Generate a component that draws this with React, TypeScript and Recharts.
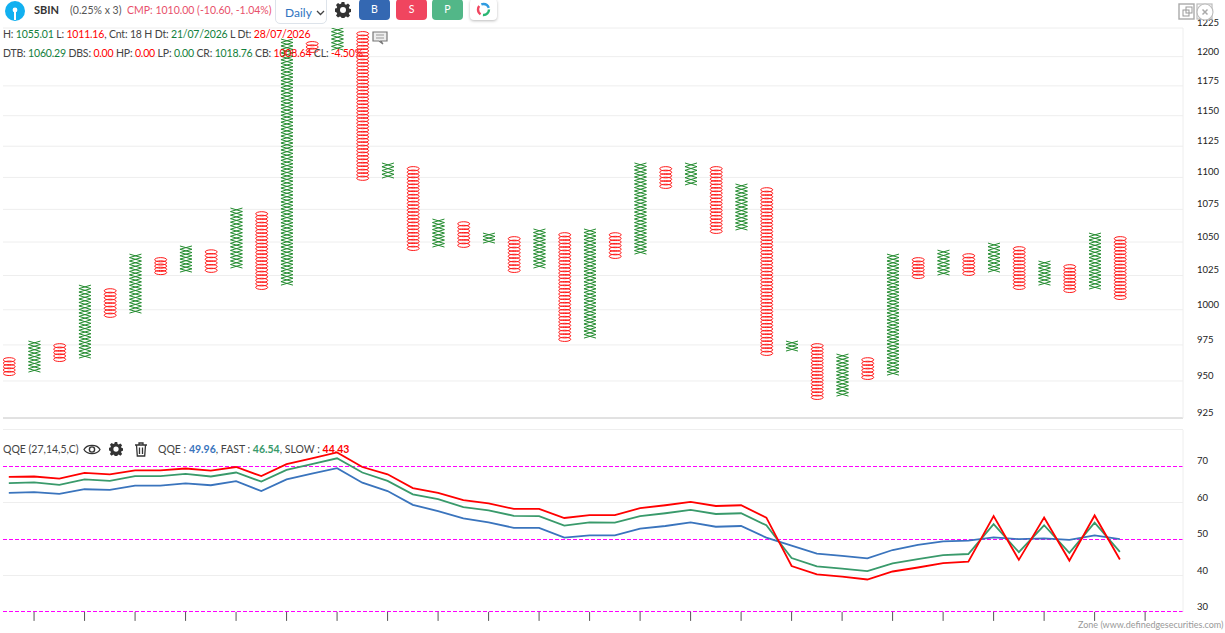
import React from "react";
import { ComposedChart, LineChart, Bar, Line, XAxis, YAxis, CartesianGrid, ReferenceLine } from "recharts";

const columnKinds = "OXOXOXOXOXOXOXOXOXOXOXOXOXOXOXOXOXOXOXOXOXOXO".split("");
const columnHighs = [965.8,977.7,975.6,1017.9,1015,1040.9,1037.9,1047,1043.9,1076,1072.9,1215.3,1212.7,1225,1221.5,1111.5,1108.3,1067.5,1065.2,1056.8,1053.8,1059.9,1056.8,1059.9,1056.8,1111.5,1108.3,1111.5,1108.3,1094.8,1091.6,977.7,975.6,968.6,965.8,1040.9,1037.9,1043.9,1040.9,1049.2,1046.2,1035.7,1032.7,1056.8,1053.8];
const columnLows = [954,956.1,963.7,965.8,994.8,997.6,1026,1027.5,1027.5,1030.5,1015,1017.9,1204,1205.7,1098,1099.5,1043.9,1046.2,1046.2,1049.2,1027.5,1030.5,977.7,979.8,1037.9,1040.9,1091.6,1094,1056.8,1059.1,967.9,970.7,937.7,939.7,951.3,954,1023.1,1025.3,1025.3,1027.5,1015,1017.9,1012.8,1015,1007.7];
const priceTicks = [925,950,975,1000,1025,1050,1075,1100,1125,1150,1175,1200,1225];

const qqeValues = [62.7,62.9,62.4,63.7,63.5,64.7,64.7,65.3,64.8,65.9,63.2,66.4,68,69.5,65.5,63.2,59.4,57.7,55.7,54.6,53.1,53.1,50.4,51,51,52.9,53.6,54.6,53.4,53.6,50.4,48.2,46,45.4,44.7,47,48.4,49.4,49.6,50.5,50,50.2,49.8,51,50];
const fastValues = [65.4,65.6,64.9,66.4,66,67.3,67.3,67.9,67.2,68.3,65.8,69,70.6,72.2,68.3,66,62.3,61,58.8,57.9,56.4,56.3,53.7,54.6,54.5,56.3,57.1,58,56.9,57.1,53.8,44.8,42.5,41.9,41.2,43.3,44.5,45.6,45.9,54.1,46.4,53.8,46.2,54.5,46.5];
const slowValues = [67.1,67.2,66.6,68.2,67.8,68.9,68.9,69.4,68.8,69.8,67.3,70.6,72.2,73.8,69.8,67.8,64,62.7,60.7,59.8,58.3,58.3,55.8,56.6,56.6,58.5,59.3,60.2,59.1,59.3,55.9,42.6,40.3,39.7,38.9,41.1,42.2,43.4,43.8,56.3,44.3,55.9,44.1,56.5,44.4];
const qqeTicks = [30,40,50,60,70];
const qqeGrey = [40,60,80];
const qqeMagenta = [30,50,70];
const timeTicks = [1,3,5,7,9,11,13,15,17,19,21,23,25,27,29,31,33,35,37,39,41,43,45];

const priceRows = columnKinds.map((kind, i) => ({ i, kind, range: [columnLows[i], columnHighs[i]] }));
const qqeRows = qqeValues.map((qqe, i) => ({ i, qqe, fast: fastValues[i], slow: slowValues[i] }));

const xDomain: [number, number] = [-0.23, 46.5];
const FONT = "Lato, 'Open Sans', sans-serif";
const GREEN = "#228b2e";
const RED = "#ff1a1a";
const TXT = "#444";
const VGREEN = "#12803c";

function PnfShape(props: any) {
  const { x, y, width, height, payload } = props;
  const [lo, hi] = payload.range;
  const n = Math.max(1, Math.round(Math.log(hi / lo) / Math.log(1.0025)));
  const h = height / n;
  const cx = x + width / 2;
  const out = [];
  for (let k = 0; k < n; k++) {
    const t = y + k * h;
    if (payload.kind === "X") {
      out.push(<path key={k} d={`M${cx - 6} ${t}L${cx + 6} ${t + h}M${cx + 6} ${t}L${cx - 6} ${t + h}`} stroke={GREEN} strokeWidth={1} fill="none" />);
    } else {
      out.push(<ellipse key={k} cx={cx} cy={t + h / 2} rx={6} ry={2.1} stroke={RED} strokeWidth={1} fill="none" />);
    }
  }
  return <g>{out}</g>;
}

function RightTick(props: any) {
  const { x, y, payload } = props;
  return <text x={x + 6} y={y - 2} fontSize={9.5} fontFamily={FONT} fill="#222">{payload.value}</text>;
}
const NoTick = () => <g />;

const T = ({ x, y, c, b, s = 10.5, ls = 0, children }: any) => (
  <div style={{ position: "absolute", left: x, top: y, color: c || TXT, fontWeight: b ? 700 : 400, fontSize: s, letterSpacing: ls, lineHeight: "16px", whiteSpace: "pre", fontFamily: FONT }}>{children}</div>
);

const Gear = ({ x, y, s = 16 }: any) => (
  <svg style={{ position: "absolute", left: x, top: y }} width={s} height={s} viewBox="0 0 16 16">
    <path d="M6.6 0h2.8l.4 2.2 1.3.6 1.9-1.2 2 2-1.2 1.9.6 1.3 2.1.4v2.8l-2.1.4-.6 1.3 1.2 1.9-2 2-1.9-1.2-1.3.6-.4 2.2H6.6l-.4-2.2-1.3-.6-1.9 1.2-2-2 1.2-1.9-.6-1.3L-.5 9.4V6.6l2.1-.4.6-1.3L1 3l2-2 1.9 1.2 1.3-.6z" fill="#333" />
    <circle cx="8" cy="8" r="3" fill="#fff" />
  </svg>
);

const Btn = ({ x, w, bg, children }: any) => (
  <div style={{ position: "absolute", left: x, top: -1, width: w, height: 21, background: bg, borderRadius: 4, color: "#fff", textAlign: "center", fontSize: 10.5, lineHeight: "21px", fontFamily: FONT }}>{children}</div>
);

export default function App() {
  return (
    <div style={{ position: "absolute", left: 0, top: 0, width: 1225, height: 633, background: "#fff", overflow: "hidden" }}>
      <div style={{ position: "absolute", left: 0, top: 0 }}>
        <ComposedChart width={1225} height={419} data={priceRows} margin={{ top: 28, left: 3, right: 0, bottom: 1 }}>
          <CartesianGrid horizontal vertical={false} stroke="#eeeeee" />
          <XAxis dataKey="i" type="number" domain={xDomain} allowDataOverflow hide />
          <YAxis orientation="right" width={42} scale="log" domain={[925, 1225]} allowDataOverflow ticks={priceTicks} interval={0} tick={RightTick} tickLine={false} axisLine={{ stroke: "#eeeeee" }} />
          <ReferenceLine y={925} stroke="#cccccc" />
          <Bar dataKey="range" barSize={16} shape={PnfShape} isAnimationActive={false} />
        </ComposedChart>
      </div>
      <div style={{ position: "absolute", left: 0, top: 419 }}>
        <LineChart width={1225} height={215} data={qqeRows} margin={{ top: 10.9, left: 3, right: 0, bottom: 0.1 }}>
          <XAxis dataKey="i" type="number" domain={xDomain} allowDataOverflow ticks={timeTicks} interval={0} height={22} tickSize={9} tick={NoTick} axisLine={false} tickLine={{ stroke: "#555" }} />
          <YAxis orientation="right" width={42} domain={[30, 80]} allowDataOverflow ticks={qqeTicks} interval={0} tick={RightTick} tickLine={false} axisLine={{ stroke: "#eeeeee" }} />
          {qqeGrey.map((v) => <ReferenceLine key={v} y={v} stroke="#eeeeee" shapeRendering="crispEdges" />)}
          {qqeMagenta.map((v) => <ReferenceLine key={v} y={v} stroke="#ff00ff" strokeDasharray="4 2" shapeRendering="crispEdges" />)}
          <Line dataKey="qqe" stroke="#3a74bd" strokeWidth={1.8} dot={false} isAnimationActive={false} />
          <Line dataKey="fast" stroke="#399a6b" strokeWidth={1.8} dot={false} isAnimationActive={false} />
          <Line dataKey="slow" stroke="#ff0000" strokeWidth={1.8} dot={false} isAnimationActive={false} />
        </LineChart>
      </div>

      <svg style={{ position: "absolute", left: 4, top: 0 }} width={22} height={22}>
        <circle cx="11" cy="11" r="10" fill="#12b0f0" />
        <circle cx="11" cy="10" r="2.4" fill="#fff" />
        <rect x="10" y="10" width="2" height="10" fill="#fff" />
      </svg>
      <T x={34} y={2} b c="#333" s={11}>SBIN</T>
      <T x={70} y={2} c="#555">(0.25% x 3)</T>
      <T x={127} y={2} c="#e8506a">CMP: 1010.00 (-10.60, -1.04%)</T>
      <div style={{ position: "absolute", left: 275, top: -6, width: 52, height: 30, border: "1px solid #dde3ea", borderRadius: 5, boxSizing: "border-box", background: "#fff" }}>
        <div style={{ position: "absolute", left: 9, top: 10, color: "#2f74c0", fontSize: 12, fontFamily: FONT, lineHeight: "16px" }}>Daily</div>
        <svg style={{ position: "absolute", left: 40, top: 15 }} width={9} height={6}><path d="M1 1l3.5 3.5L8 1" stroke="#444" strokeWidth={1.3} fill="none" /></svg>
      </div>
      <Gear x={335} y={2} />
      <Btn x={359} w={31} bg="#3468b2">B</Btn>
      <Btn x={396} w={31} bg="#f0455f">S</Btn>
      <Btn x={432} w={31} bg="#52b788">P</Btn>
      <div style={{ position: "absolute", left: 470, top: -1, width: 27, height: 21, background: "#fff", borderRadius: 4, boxShadow: "0 1px 3px #bbb" }}>
        <svg width={27} height={21}>
          <circle cx="13.5" cy="10.5" r="5.5" fill="none" stroke="#2bb673" strokeWidth={2.4} strokeDasharray="9 26" strokeDashoffset={0} />
          <circle cx="13.5" cy="10.5" r="5.5" fill="none" stroke="#f0455f" strokeWidth={2.4} strokeDasharray="9 26" strokeDashoffset={-11.5} />
          <circle cx="13.5" cy="10.5" r="5.5" fill="none" stroke="#2f9be0" strokeWidth={2.4} strokeDasharray="9 26" strokeDashoffset={-23} />
        </svg>
      </div>

      <T x={3} y={26} ls={-0.17}>
        H: <span style={{ color: VGREEN }}>1055.01</span> L: <span style={{ color: "#f00" }}>1011.16</span>, Cnt: 18 H Dt: <span style={{ color: VGREEN }}>21/07/2026</span> L Dt: <span style={{ color: "#f00" }}>28/07/2026</span>
      </T>
      <T x={3} y={45} ls={-0.17}>
        DTB: <span style={{ color: VGREEN }}>1060.29</span> DBS: <span style={{ color: "#f00" }}>0.00</span> HP: <span style={{ color: "#f00" }}>0.00</span> LP: <span style={{ color: VGREEN }}>0.00</span> CR: <span style={{ color: VGREEN }}>1018.76</span> CB: <span style={{ color: "#f00" }}>1008.64</span> CL: <span style={{ color: "#f00" }}>-4.50%</span>
      </T>
      <svg style={{ position: "absolute", left: 372, top: 31 }} width={16} height={15}>
        <path d="M1 1h14v9H9l2 3-4-3H1z" fill="#eee" stroke="#777" strokeWidth={1.2} />
        <path d="M4 4h8M4 7h8" stroke="#999" />
      </svg>

      <svg style={{ position: "absolute", left: 1177, top: 3 }} width={44} height={18}>
        <rect x="2" y="1" width="15" height="15" fill="none" stroke="#aaa" strokeWidth={1.4} />
        <rect x="6" y="7" width="6" height="6" fill="none" stroke="#999" />
        <rect x="9" y="4" width="6" height="6" fill="none" stroke="#999" />
        <rect x="20" y="1" width="15" height="15" fill="none" stroke="#bbb" strokeWidth={1.2} />
        <circle cx="28" cy="9" r="8" fill="#fff" stroke="#bbb" strokeWidth={1.1} />
        <path d="M25.5 6.5l5 5M30.5 6.5l-5 5" stroke="#aaa" strokeWidth={1.5} />
      </svg>

      <T x={3} y={441}>QQE (27,14,5,C)</T>
      <svg style={{ position: "absolute", left: 83, top: 443 }} width={18} height={13}>
        <path d="M1 6.5C4 1 14 1 17 6.5C14 12 4 12 1 6.5Z" fill="none" stroke="#333" strokeWidth={1.3} />
        <circle cx="9" cy="6.5" r="2.6" fill="none" stroke="#333" strokeWidth={1.4} />
      </svg>
      <Gear x={109} y={442} s={14} />
      <svg style={{ position: "absolute", left: 134, top: 442 }} width={14} height={15}>
        <path d="M1 3h12M5 3V1h4v2M2.5 3l.8 11h7.4l.8-11M5.5 5.5v6.5M8.5 5.5v6.5" stroke="#333" strokeWidth={1.3} fill="none" />
      </svg>
      <T x={158} y={441}>
        QQE : <b style={{ color: "#3a74bd" }}>49.96</b>, FAST : <b style={{ color: "#399a6b" }}>46.54</b>, SLOW : <b style={{ color: "#ff0000" }}>44.43</b>
      </T>
      <T x={1078} y={617} c="#999" s={9}>Zone (www.definedgesecurities.com)</T>
    </div>
  );
}
